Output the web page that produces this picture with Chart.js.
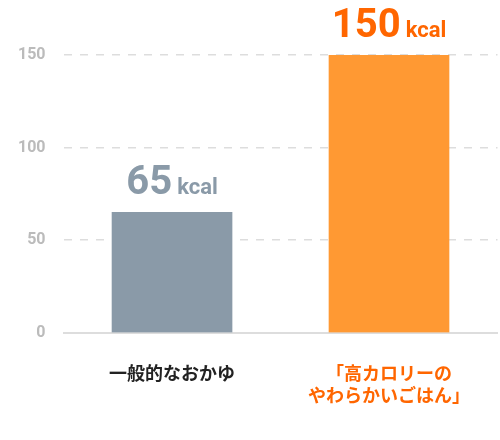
<!DOCTYPE html>
<html>
<head>
<meta charset="utf-8">
<script src="https://cdn.jsdelivr.net/npm/chart.js@4"></script>
<style>body{margin:0;background:#fff}#wrap{width:500px;height:440px}</style>
</head>
<body>
<div id="wrap"><canvas id="c"></canvas></div>
<script>
const categories = [["一般的なおかゆ"], ["「高カロリーの", "やわらかいごはん」"]];
const values = [65, 150];
const barColors = ["#8a9aa8", "#ff9933"];
const labelColors = ["#8a9aa8", "#ff6600"];
const yTicks = [0, 50, 100, 150];

const valueLabels = {
  id: "valueLabels",
  afterDatasetsDraw(chart) {
    const ctx = chart.ctx;
    chart.getDatasetMeta(0).data.forEach((bar, i) => {
      const num = String(values[i]);
      ctx.save();
      ctx.fillStyle = labelColors[i];
      ctx.textBaseline = "alphabetic";
      ctx.font = "bold 40px Roboto";
      const w1 = ctx.measureText(num).width;
      ctx.font = "bold 22px Roboto";
      const w2 = ctx.measureText("kcal").width;
      const gap = 5;
      let x = bar.x - (w1 + gap + w2) / 2;
      const y = bar.y - 18;
      ctx.font = "bold 40px Roboto";
      ctx.fillText(num, x, y);
      ctx.font = "bold 22px Roboto";
      ctx.fillText("kcal", x + w1 + gap, y);
      ctx.restore();
    });
  }
};

new Chart(document.getElementById("c"), {
  type: "bar",
  data: {
    labels: categories,
    datasets: [{
      data: values,
      backgroundColor: barColors,
      barThickness: 120
    }]
  },
  options: {
    responsive: true,
    maintainAspectRatio: false,
    animation: false,
    layout: { padding: { top: 55, right: 0, left: 0, bottom: 4 } },
    plugins: { legend: { display: false }, tooltip: { enabled: false } },
    scales: {
      x: {
        grid: { display: false, drawTicks: false },
        border: { color: "#dddddd", width: 2 },
        ticks: {
          padding: 30,
          font: { size: 18, family: "Noto Sans CJK JP", weight: "bold" },
          color: ctx => ctx.index === 1 ? "#ff6600" : "#222222"
        }
      },
      y: {
        min: 0,
        max: 150,
        afterBuildTicks(s) { s.ticks = yTicks.map(v => ({ value: v })); },
        grid: { color: "#dddddd", lineWidth: 1.5, drawTicks: false },
        border: { display: false, dash: [8, 8] },
        ticks: { padding: 18, color: "#bbbbbb", font: { size: 16, family: "Roboto", weight: "bold" } }
      }
    }
  },
  plugins: [valueLabels]
});
</script>
</body>
</html>
